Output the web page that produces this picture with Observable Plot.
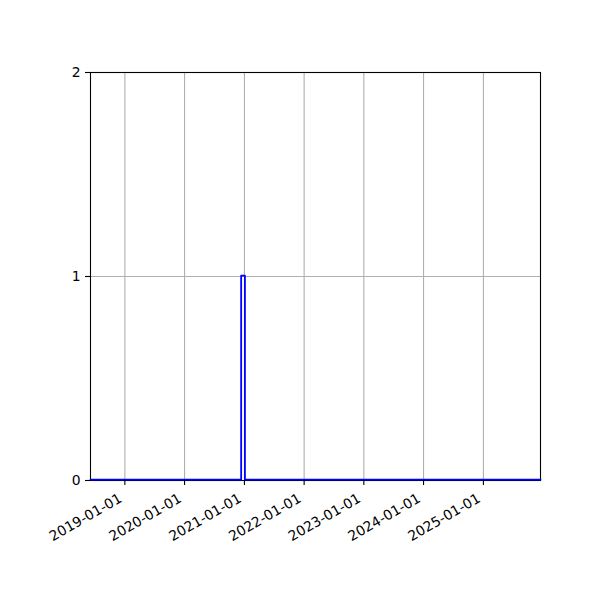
<!DOCTYPE html>
<html>
<head>
<meta charset="utf-8">
<script src="https://cdn.jsdelivr.net/npm/d3@7"></script>
<script src="https://cdn.jsdelivr.net/npm/@observablehq/plot@0.6"></script>
<style>
  html, body { margin: 0; padding: 0; background: #fff; }
  #chart { width: 600px; height: 600px; }
  svg { font-family: "DejaVu Sans", sans-serif; }
</style>
</head>
<body>
<div id="chart"></div>
<script>
// Histogram bin edges (dates) and counts per bin
const binEdges = ["2018-06-05", "2020-12-12", "2021-01-04", "2025-12-16"];
const binCounts = [0, 1, 0];
// Axis ticks
const xTicks = ["2019-01-01", "2020-01-01", "2021-01-01", "2022-01-01", "2023-01-01", "2024-01-01", "2025-01-01"];
const yTicks = [0, 1, 2];
const xDomain = ["2018-06-05", "2025-12-16"];
const yDomain = [0, 2];

const parse = d3.utcParse("%Y-%m-%d");
const fmt = d3.utcFormat("%Y-%m-%d");
const edges = binEdges.map(parse);
// step outline points built from edges and counts
const stepPts = [{x: edges[0], y: 0}];
binCounts.forEach((c, i) => {
  stepPts.push({x: edges[i], y: c});
  stepPts.push({x: edges[i + 1], y: c});
});
stepPts.push({x: edges[edges.length - 1], y: 0});

const chart = Plot.plot({
  width: 600,
  height: 600,
  marginLeft: 90,
  marginRight: 60,
  marginTop: 72,
  marginBottom: 120,
  style: {fontFamily: "DejaVu Sans, sans-serif", fontSize: "13.9px", color: "#000", background: "#fff"},
  x: {type: "utc", domain: xDomain.map(parse), range: [90, 540]},
  y: {domain: yDomain, range: [480, 72]},
  marks: [
    Plot.gridX(xTicks.map(parse), {stroke: "#b0b0b0", strokeOpacity: 1, strokeWidth: 1.1}),
    Plot.gridY(yTicks, {stroke: "#b0b0b0", strokeOpacity: 1, strokeWidth: 1.1}),
    Plot.frame({stroke: "#000", strokeWidth: 1.1}),
    Plot.line(stepPts, {x: "x", y: "y", stroke: "blue", strokeWidth: 1.8, dy: -0.8}),
    // tick marks only
    Plot.axisX(xTicks.map(parse), {
      tickSize: 5, tickFormat: () => "", label: null,
      stroke: "#000", strokeWidth: 1.1
    }),
    // rotated tick labels, matplotlib-style placement
    Plot.text(xTicks.map(parse), {
      x: d => d, text: d => fmt(d), frameAnchor: "bottom",
      dy: 12, dx: -7, rotate: -30, textAnchor: "end", lineAnchor: "top",
      fill: "#000", fontSize: 13.9
    }),
    Plot.axisY(yTicks, {
      tickSize: 5, tickPadding: 5, tickFormat: d => String(d), label: null,
      stroke: "#000", strokeWidth: 1.1, fill: "#000"
    })
  ]
});
document.getElementById("chart").appendChild(chart);
</script>
</body>
</html>
